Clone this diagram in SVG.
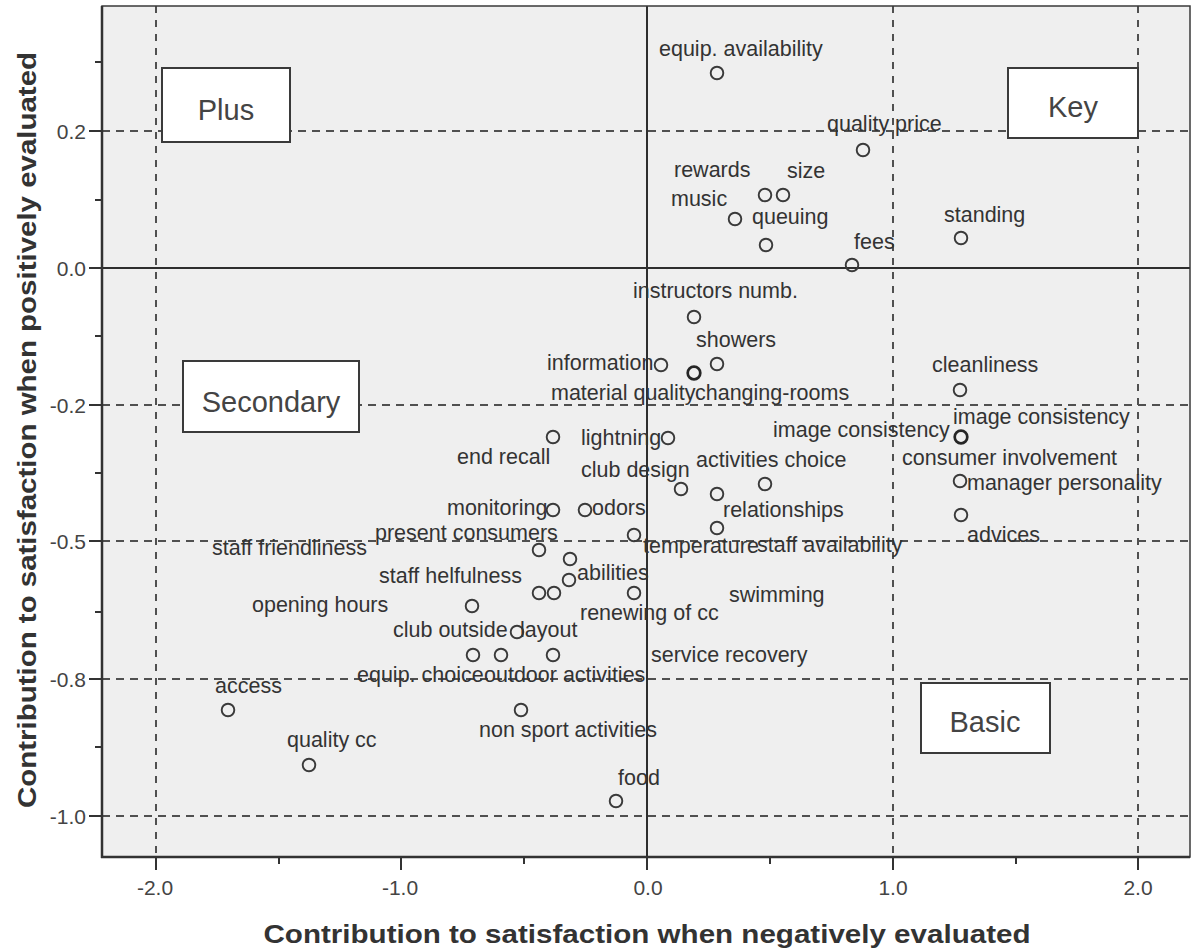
<svg xmlns="http://www.w3.org/2000/svg" width="1192" height="952" viewBox="0 0 1192 952">
<style>
.bg{fill:#efefef;stroke:none}
.frame{fill:none;stroke:#3a3a3a;stroke-width:1.5}
.axis{stroke:#333;stroke-width:2.5}
.tick{stroke:#333;stroke-width:2}
.gv{stroke:#505050;stroke-width:2;stroke-dasharray:7 7;fill:none}
.gh{stroke:#505050;stroke-width:2;stroke-dasharray:8 6;fill:none}
.zero{stroke:#2e2e2e;stroke-width:2;fill:none}
.box{fill:#fff;stroke:#3a3a3a;stroke-width:2}
.boxt{font-family:"Liberation Sans",Arial,sans-serif;font-size:29px;fill:#444;text-anchor:middle}
.pt{fill:none;stroke:#3a3a3a;stroke-width:1.9}
.ptb{fill:none;stroke:#262626;stroke-width:2.7}
.lb{font-family:"Liberation Sans",Arial,sans-serif;font-size:21.5px;fill:#333}
.tl{font-family:"Liberation Sans",Arial,sans-serif;font-size:21px;fill:#444}
.ttl{font-family:"Liberation Sans",Arial,sans-serif;font-size:25px;font-weight:bold;fill:#333;text-anchor:middle}
</style>
<rect x="0" y="0" width="1192" height="952" fill="#fff"/>
<g id="plot-area">
<rect class="bg" x="102" y="6" width="1088" height="851"/>
</g>
<g id="grid">
<line class="gv" x1="156" y1="6" x2="156" y2="857"/>
<line class="gv" x1="893" y1="6" x2="893" y2="857"/>
<line class="gv" x1="1138" y1="6" x2="1138" y2="857"/>
<line class="gh" x1="102" y1="131" x2="1190" y2="131"/>
<line class="gh" x1="102" y1="405" x2="1190" y2="405"/>
<line class="gh" x1="102" y1="541" x2="1190" y2="541"/>
<line class="gh" x1="102" y1="679" x2="1190" y2="679"/>
<line class="gh" x1="102" y1="816" x2="1190" y2="816"/>
<line class="zero" x1="102" y1="268" x2="1190" y2="268"/>
<line class="zero" x1="647" y1="6" x2="647" y2="857"/>
</g>
<g id="axes">
<rect class="frame" x="102" y="6" width="1088" height="851"/>
<line class="axis" x1="102" y1="6" x2="102" y2="858"/>
<line class="axis" x1="101" y1="857" x2="1190" y2="857"/>
<line class="tick" x1="89" y1="131" x2="102" y2="131"/>
<line class="tick" x1="89" y1="268" x2="102" y2="268"/>
<line class="tick" x1="89" y1="405" x2="102" y2="405"/>
<line class="tick" x1="89" y1="541" x2="102" y2="541"/>
<line class="tick" x1="89" y1="679" x2="102" y2="679"/>
<line class="tick" x1="89" y1="816" x2="102" y2="816"/>
<line class="tick" x1="95" y1="62" x2="102" y2="62"/>
<line class="tick" x1="95" y1="200" x2="102" y2="200"/>
<line class="tick" x1="95" y1="336" x2="102" y2="336"/>
<line class="tick" x1="95" y1="473" x2="102" y2="473"/>
<line class="tick" x1="95" y1="612" x2="102" y2="612"/>
<line class="tick" x1="95" y1="747" x2="102" y2="747"/>
<line class="tick" x1="156" y1="857" x2="156" y2="870"/>
<line class="tick" x1="401" y1="857" x2="401" y2="870"/>
<line class="tick" x1="647" y1="857" x2="647" y2="870"/>
<line class="tick" x1="893" y1="857" x2="893" y2="870"/>
<line class="tick" x1="1138" y1="857" x2="1138" y2="870"/>
<line class="tick" x1="279" y1="857" x2="279" y2="864"/>
<line class="tick" x1="524" y1="857" x2="524" y2="864"/>
<line class="tick" x1="770" y1="857" x2="770" y2="864"/>
<line class="tick" x1="1016" y1="857" x2="1016" y2="864"/>
<g text-anchor="end">
<text class="tl" x="86" y="139">0.2</text>
<text class="tl" x="86" y="276">0.0</text>
<text class="tl" x="86" y="413">-0.2</text>
<text class="tl" x="86" y="549">-0.5</text>
<text class="tl" x="86" y="687">-0.8</text>
<text class="tl" x="86" y="824">-1.0</text>
</g>
<g text-anchor="middle">
<text class="tl" x="155" y="895">-2.0</text>
<text class="tl" x="400" y="895">-1.0</text>
<text class="tl" x="648" y="895">0.0</text>
<text class="tl" x="893" y="895">1.0</text>
<text class="tl" x="1138" y="895">2.0</text>
</g>
<text class="ttl" x="647" y="943" textLength="767" lengthAdjust="spacingAndGlyphs">Contribution to satisfaction when negatively evaluated</text>
<text class="ttl" transform="translate(36,430) rotate(-90)" x="0" y="0" textLength="756" lengthAdjust="spacingAndGlyphs">Contribution to satisfaction when positively evaluated</text>
</g>
<g id="quadrant-plus"><rect class="box" x="162" y="68" width="128" height="74"/><text class="boxt" x="226" y="120">Plus</text></g>
<g id="quadrant-key"><rect class="box" x="1008" y="68" width="130" height="70"/><text class="boxt" x="1073" y="117">Key</text></g>
<g id="quadrant-secondary"><rect class="box" x="183" y="361" width="176" height="71"/><text class="boxt" x="271" y="412">Secondary</text></g>
<g id="quadrant-basic"><rect class="box" x="921" y="683" width="129" height="70"/><text class="boxt" x="985" y="732">Basic</text></g>
<g id="points">
<circle class="pt" cx="717" cy="73" r="6.3"/>
<circle class="pt" cx="863" cy="150" r="6.3"/>
<circle class="pt" cx="765" cy="195" r="6.3"/>
<circle class="pt" cx="783" cy="195" r="6.3"/>
<circle class="pt" cx="735" cy="219" r="6.3"/>
<circle class="pt" cx="766" cy="245" r="6.3"/>
<circle class="pt" cx="961" cy="238" r="6.3"/>
<circle class="pt" cx="852" cy="265" r="6.3"/>
<circle class="pt" cx="694" cy="317" r="6.3"/>
<circle class="pt" cx="661" cy="365" r="6.3"/>
<circle class="pt" cx="717" cy="364" r="6.3"/>
<circle class="ptb" cx="694" cy="373" r="6.3"/>
<circle class="pt" cx="960" cy="390" r="6.3"/>
<circle class="ptb" cx="961" cy="437" r="6.3"/>
<circle class="pt" cx="553" cy="437" r="6.3"/>
<circle class="pt" cx="668" cy="438" r="6.3"/>
<circle class="pt" cx="681" cy="489" r="6.3"/>
<circle class="pt" cx="717" cy="494" r="6.3"/>
<circle class="pt" cx="765" cy="484" r="6.3"/>
<circle class="pt" cx="960" cy="481" r="6.3"/>
<circle class="pt" cx="961" cy="515" r="6.3"/>
<circle class="pt" cx="553" cy="510" r="6.3"/>
<circle class="pt" cx="585" cy="510" r="6.3"/>
<circle class="pt" cx="717" cy="528" r="6.3"/>
<circle class="pt" cx="634" cy="535" r="6.3"/>
<circle class="pt" cx="539" cy="550" r="6.3"/>
<circle class="pt" cx="570" cy="559" r="6.3"/>
<circle class="pt" cx="569" cy="580" r="6.3"/>
<circle class="pt" cx="539" cy="593" r="6.3"/>
<circle class="pt" cx="554" cy="593" r="6.3"/>
<circle class="pt" cx="634" cy="593" r="6.3"/>
<circle class="pt" cx="472" cy="606" r="6.3"/>
<circle class="pt" cx="517" cy="632" r="6.3"/>
<circle class="pt" cx="473" cy="655" r="6.3"/>
<circle class="pt" cx="501" cy="655" r="6.3"/>
<circle class="pt" cx="553" cy="655" r="6.3"/>
<circle class="pt" cx="521" cy="710" r="6.3"/>
<circle class="pt" cx="228" cy="710" r="6.3"/>
<circle class="pt" cx="309" cy="765" r="6.3"/>
<circle class="pt" cx="616" cy="801" r="6.3"/>
</g>
<g id="labels">
<text class="lb" x="659" y="56">equip. availability</text>
<text class="lb" x="827" y="131">quality price</text>
<text class="lb" x="674" y="177">rewards</text>
<text class="lb" x="787" y="178">size</text>
<text class="lb" x="671" y="206">music</text>
<text class="lb" x="752" y="224">queuing</text>
<text class="lb" x="944" y="222">standing</text>
<text class="lb" x="854" y="249">fees</text>
<text class="lb" x="633" y="298">instructors numb.</text>
<text class="lb" x="696" y="347">showers</text>
<text class="lb" x="547" y="370">information</text>
<text class="lb" x="551" y="400">material quality</text>
<text class="lb" x="695" y="400">changing-rooms</text>
<text class="lb" x="932" y="372">cleanliness</text>
<text class="lb" x="953" y="424">image consistency</text>
<text class="lb" x="773" y="437">image consistency</text>
<text class="lb" x="902" y="465">consumer involvement</text>
<text class="lb" x="967" y="490">manager personality</text>
<text class="lb" x="967" y="542">advices</text>
<text class="lb" x="581" y="445">lightning</text>
<text class="lb" x="457" y="464">end recall</text>
<text class="lb" x="581" y="477">club design</text>
<text class="lb" x="696" y="467">activities choice</text>
<text class="lb" x="447" y="515">monitoring</text>
<text class="lb" x="592" y="515">odors</text>
<text class="lb" x="723" y="517">relationships</text>
<text class="lb" x="375" y="540">present consumers</text>
<text class="lb" x="212" y="555">staff friendliness</text>
<text class="lb" x="643" y="553">temperature</text>
<text class="lb" x="757" y="552">staff availability</text>
<text class="lb" x="577" y="580">abilities</text>
<text class="lb" x="379" y="583">staff helfulness</text>
<text class="lb" x="729" y="602">swimming</text>
<text class="lb" x="252" y="612">opening hours</text>
<text class="lb" x="580" y="620">renewing of cc</text>
<text class="lb" x="393" y="637">club outside</text>
<text class="lb" x="520" y="637">layout</text>
<text class="lb" x="651" y="662">service recovery</text>
<text class="lb" x="357" y="682">equip. choice</text>
<text class="lb" x="484" y="682">outdoor activities</text>
<text class="lb" x="479" y="737">non sport activities</text>
<text class="lb" x="618" y="785">food</text>
<text class="lb" x="215" y="693">access</text>
<text class="lb" x="287" y="747">quality cc</text>
</g>
</svg>
